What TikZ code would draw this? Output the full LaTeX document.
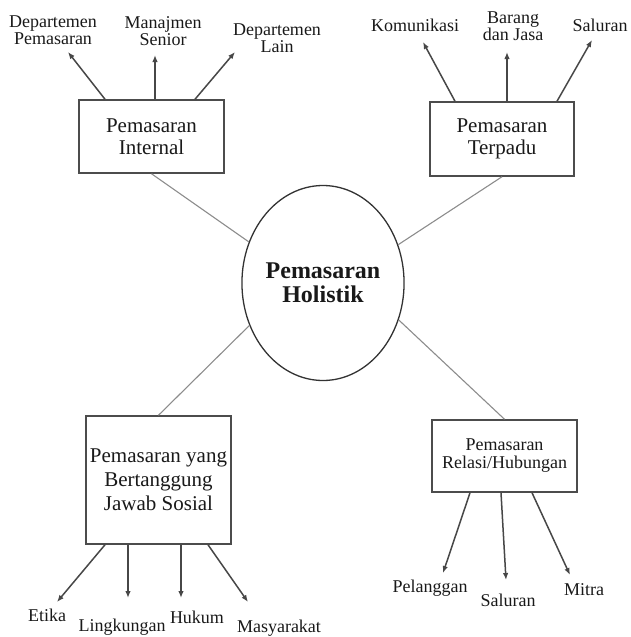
\documentclass[tikz,border=0pt]{standalone}
\usepackage{fontspec}
\setmainfont{Liberation Serif}
\usetikzlibrary{arrows.meta,shapes.geometric}
\begin{document}
\begin{tikzpicture}[x=1pt,y=-1pt,
  box/.style={draw=black!70,line width=1.5pt,fill=white,inner sep=0pt,align=center,
    font=\fontsize{21}{22}\selectfont,text=black!90},
  lbl/.style={inner sep=0pt,align=center,font=\fontsize{18}{17}\selectfont,text=black!90},
  arr/.style={draw=black!72,line width=1.5pt,-{Latex[length=7pt,width=5.5pt]}},
  link/.style={draw=black!45,line width=1.1pt}]
\useasboundingbox (0,0) rectangle (630,637);
% centre
\node[ellipse,draw=black!80,line width=1.3pt,minimum width=160pt,minimum height=195pt,inner sep=0pt,
  align=center,font=\fontsize{24}{24}\selectfont\bfseries,text=black!90] (ell) at (323,283) {Pemasaran\\Holistik};
% boxes
\node[box,minimum width=145pt,minimum height=73pt] (int) at (151.5,136.5) {Pemasaran\\Internal};
\node[box,minimum width=144pt,minimum height=74pt] (ter) at (502,139) {Pemasaran\\Terpadu};
\node[box,minimum width=145pt,minimum height=128pt,font=\fontsize{21}{24}\selectfont] (sos) at (158.5,480) {Pemasaran yang\\Bertanggung\\Jawab Sosial};
\node[box,minimum width=145pt,minimum height=72pt,font=\fontsize{18}{18}\selectfont] (rel) at (504.5,456) {Pemasaran\\Relasi/Hubungan};
% links
\draw[link] (int.south) -- (ell.151);
\draw[link] (ter.south) -- (ell.27);
\draw[link] (sos.north) -- (ell.210);
\draw[link] (rel.north) -- (ell.334);
% labels top-left
\node[lbl] (dp) at (53,30) {Departemen\\Pemasaran};
\node[lbl] (ms) at (163,31) {Manajmen\\Senior};
\node[lbl] (dl) at (277,38) {Departemen\\Lain};
\coordinate (e1) at (68,52);
\coordinate (e2) at (155,55);
\coordinate (e3) at (235,52);
\draw[arr] ([xshift=-46.5pt]int.north) -- (e1);
\draw[arr] ([xshift=3.5pt]int.north) -- (e2);
\draw[arr] ([xshift=43.5pt]int.north) -- (e3);
% labels top-right
\node[lbl] (ko) at (415,25) {Komunikasi};
\node[lbl] (bj) at (513,26) {Barang\\dan Jasa};
\node[lbl] (sa) at (600,25) {Saluran};
\coordinate (f1) at (423,42);
\coordinate (f2) at (507,52);
\coordinate (f3) at (592,40);
\draw[arr] ([xshift=-47pt]ter.north) -- (f1);
\draw[arr] ([xshift=5pt]ter.north) -- (f2);
\draw[arr] ([xshift=55pt]ter.north) -- (f3);
% labels bottom-left
\node[lbl] (et) at (47,615) {Etika};
\node[lbl] (li) at (122,627) {Lingkungan};
\node[lbl] (hu) at (197,617) {Hukum};
\node[lbl] (ma) at (279,628) {Masyarakat};
\coordinate (g1) at (57,602);
\coordinate (g2) at (128,598);
\coordinate (g3) at (181,598);
\coordinate (g4) at (248,602);
\draw[arr] ([xshift=-53.5pt]sos.south) -- (g1);
\draw[arr] ([xshift=-30.5pt]sos.south) -- (g2);
\draw[arr] ([xshift=22.5pt]sos.south) -- (g3);
\draw[arr] ([xshift=49.5pt]sos.south) -- (g4);
% labels bottom-right
\node[lbl] (pe) at (430,588) {Pelanggan};
\node[lbl] (sb) at (508,600) {Saluran};
\node[lbl] (mi) at (584,590) {Mitra};
\coordinate (h1) at (443,573);
\coordinate (h2) at (506,580);
\coordinate (h3) at (570,575);
\draw[arr] ([xshift=-34.5pt]rel.south) -- (h1);
\draw[arr] ([xshift=-3.5pt]rel.south) -- (h2);
\draw[arr] ([xshift=27.5pt]rel.south) -- (h3);
\end{tikzpicture}
\end{document}
